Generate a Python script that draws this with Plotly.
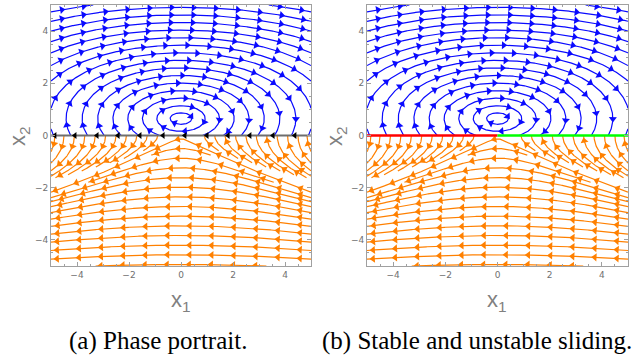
import math
import plotly.graph_objects as go

# ---- values ----
UPPER_CENTER_X2 = 0.65      # centre of the upper (blue) rotation
UPPER_K = 0.28              # upper: x2' = -k*x1
UPPER_ALPHA = 0.04          # upper: x1' = u + alpha*u^3, u = x2 - centre
LOWER_M = 0.16              # lower: x2' = m*x1
LOWER_LAMBDA = 0.55         # lower: x1' = 1 - exp(-lambda*x2)
X_RANGE = [-5, 5]
Y_RANGE = [-5, 5]
TICK_VALS = [-4, -2, 0, 2, 4]
TICK_TEXT = ["\u22124", "\u22122", "0", "2", "4"]
MINOR_TICKS = [-5, -4.5, -3.5, -3, -2.5, -1.5, -1, -0.5, 0.5, 1, 1.5, 2.5, 3, 3.5, 4.5, 5]
# heights (at x1 = 0) of the tops of the blue orbits
UPPER_ORBIT_TOPS_X2 = [0.87, 1.14, 1.43, 1.72, 2.01, 2.30, 2.59, 2.88, 3.17, 3.46,
                       3.75, 4.04, 4.33, 4.62, 4.91, 5.2]
# heights (at x1 = 0) of the orange curves crossing the middle
LOWER_SEEDS_X2 = [-0.13, -0.5, -0.87, -1.24, -1.61, -1.98, -2.35, -2.72, -3.09, -3.46,
                  -3.83, -4.2, -4.57, -4.94]
# |x1| where the orange side curves meet the switching line
LOWER_WEDGE_X1 = [0.5, 0.9, 1.3, 1.7, 2.1, 2.5, 2.9, 3.3, 3.7, 4.1, 4.5, 4.85]
SLIDE_ARROWS_X1 = [-4.85, -4.08, -3.23, -2.42, -1.58, -0.69, 0.15, 1.0, 1.81, 2.65, 3.54, 4.38]
CAPTIONS = ["(a) Phase portrait.", "(b) Stable and unstable sliding."]
BLUE = "#0a0aff"
ORANGE = "#ff8000"

DSEP = 0.34
DTEST = 0.42 * DSEP
H = 0.025
ARROW_GAP = 0.85

FIG_W, FIG_H = 636, 358


def px(xp):
    return xp / FIG_W


def py(yp):
    return 1 - yp / FIG_H


def f_upper(x, y):
    u = y - UPPER_CENTER_X2
    return (u + UPPER_ALPHA * u ** 3, -UPPER_K * x)


def f_lower(x, y):
    return (1 - math.exp(-LOWER_LAMBDA * y), LOWER_M * x)


def G_upper(u):
    return u * u / 2 + UPPER_ALPHA * u ** 4 / 4


def G_upper_inv(g):
    if g <= 0:
        return 0.0
    w = (-0.5 + math.sqrt(0.25 + UPPER_ALPHA * g)) / (UPPER_ALPHA / 2)
    return math.sqrt(w)


class Grid:
    def __init__(self, cell):
        self.cell = cell
        self.d = {}

    def key(self, x, y):
        return (int(math.floor(x / self.cell)), int(math.floor(y / self.cell)))

    def add(self, pts):
        for i, (x, y) in enumerate(pts):
            if i % 2 == 0 or i == len(pts) - 1:
                self.d.setdefault(self.key(x, y), []).append((x, y))

    def ok(self, x, y, r):
        i, j = self.key(x, y)
        r2 = r * r
        for di in (-1, 0, 1):
            for dj in (-1, 0, 1):
                for (qx, qy) in self.d.get((i + di, j + dj), ()):
                    if (qx - x) ** 2 + (qy - y) ** 2 < r2:
                        return False
        return True


def make_tracer(field, ylo, yhi, grid, dtest):
    def inside(x, y):
        return X_RANGE[0] <= x <= X_RANGE[1] and ylo <= y <= yhi

    def direction(x, y):
        vx, vy = field(x, y)
        n = math.hypot(vx, vy)
        if n < 1e-9:
            return None
        return vx / n, vy / n

    def clip(x, y, nx, ny):
        t = 1.0
        if nx < X_RANGE[0]:
            t = min(t, (X_RANGE[0] - x) / (nx - x))
        if nx > X_RANGE[1]:
            t = min(t, (X_RANGE[1] - x) / (nx - x))
        if ny < ylo:
            t = min(t, (ylo - y) / (ny - y))
        if ny > yhi:
            t = min(t, (yhi - y) / (ny - y))
        return (x + t * (nx - x), y + t * (ny - y))

    def half(seed, sgn):
        pts = []
        x, y = seed
        L = 0.0
        while L < 80:
            d = direction(x, y)
            if d is None:
                break
            mx, my = x + 0.5 * H * sgn * d[0], y + 0.5 * H * sgn * d[1]
            d2 = direction(mx, my)
            if d2 is None:
                break
            nx, ny = x + H * sgn * d2[0], y + H * sgn * d2[1]
            if not inside(nx, ny):
                pts.append(clip(x, y, nx, ny))
                break
            if grid is not None and not grid.ok(nx, ny, dtest):
                break
            pts.append((nx, ny))
            L += H
            x, y = nx, ny
            if L > 0.5 and math.hypot(nx - seed[0], ny - seed[1]) < 3 * H:
                pts.append(seed)
                return pts, True
        return pts, False

    def trace(seed):
        fwd, closed = half(seed, 1)
        if closed:
            return [seed] + fwd
        bwd, _ = half(seed, -1)
        return bwd[::-1] + [seed] + fwd

    return inside, trace


def length(line):
    return sum(math.hypot(line[i + 1][0] - line[i][0], line[i + 1][1] - line[i][1])
               for i in range(len(line) - 1))


def build_upper():
    """Blue orbits: each orbit (a level set) drawn with all its pieces inside the box."""
    inside, trace = make_tracer(f_upper, 0.0, Y_RANGE[1], None, 0)
    c = UPPER_CENTER_X2
    lines = []
    for top in UPPER_ORBIT_TOPS_X2:
        E = G_upper(top - c)
        done = []
        cands = []
        n = 81
        for i in range(n):
            x1 = X_RANGE[0] + 0.01 + (X_RANGE[1] - X_RANGE[0] - 0.02) * i / (n - 1)
            g = E - UPPER_K * x1 * x1 / 2
            if g < 0:
                continue
            u = G_upper_inv(g)
            for uu in (u, -u):
                y = c + uu
                if 0.005 < y < Y_RANGE[1] - 0.005:
                    cands.append((x1, y))
        cands.sort(key=lambda p: abs(p[0]))
        for s in cands:
            if any(min((q[0] - s[0]) ** 2 + (q[1] - s[1]) ** 2 for q in ln) < 0.05 ** 2 for ln in done):
                continue
            ln = trace(s)
            if len(ln) > 2:
                done.append(ln)
        lines.extend(done)
    return lines


def build_lower():
    ylo, yhi = Y_RANGE[0], 0.0
    grid = Grid(DSEP)
    inside, trace = make_tracer(f_lower, ylo, yhi, grid, DTEST)
    lines = []
    queue = []

    def try_seed(s, clearance, minlen, spawn):
        if not inside(s[0], s[1]) or s[1] == ylo or s[1] == yhi:
            return
        if not grid.ok(s[0], s[1], clearance):
            return
        line = trace(s)
        if len(line) < 3 or length(line) < minlen:
            return
        grid.add(line)
        lines.append(line)
        if spawn:
            step = max(1, int(round(DSEP / H)))
            for i in range(0, len(line) - 1, step):
                tx = line[i + 1][0] - line[i][0]
                ty = line[i + 1][1] - line[i][1]
                nn = math.hypot(tx, ty)
                if nn < 1e-12:
                    continue
                nx, ny = -ty / nn, tx / nn
                queue.append((line[i][0] + DSEP * nx, line[i][1] + DSEP * ny))
                queue.append((line[i][0] - DSEP * nx, line[i][1] - DSEP * ny))

    # curves through the middle, from the top down
    for v in sorted(LOWER_SEEDS_X2, reverse=True):
        try_seed((0.0, v), 0.5 * DSEP, 0.3, True)
    # side curves that meet the switching line, from the outside in
    for a in sorted(LOWER_WEDGE_X1, reverse=True):
        for sgn in (1, -1):
            try_seed((sgn * a, -0.03), 0.5 * DSEP, 0.3, True)
    # fill the remaining gaps
    k = 0
    while k < len(queue):
        try_seed(queue[k], 0.95 * DSEP, 0.6, True)
        k += 1
    return lines


def arrows(lines):
    xs, ys, angs = [], [], []
    for line in lines:
        s = [0.0]
        for i in range(len(line) - 1):
            s.append(s[-1] + math.hypot(line[i + 1][0] - line[i][0], line[i + 1][1] - line[i][1]))
        L = s[-1]
        if L < 0.3:
            continue
        if L < ARROW_GAP:
            targets = [L / 2]
        else:
            targets = []
            t = ARROW_GAP * 0.5
            while t < L - 0.1:
                targets.append(t)
                t += ARROW_GAP
        j = 0
        for t in targets:
            while j < len(s) - 2 and s[j + 1] < t:
                j += 1
            dx = line[j + 1][0] - line[j][0]
            dy = line[j + 1][1] - line[j][1]
            seg = s[j + 1] - s[j]
            f = (t - s[j]) / seg if seg > 0 else 0
            xs.append(line[j][0] + f * dx)
            ys.append(line[j][1] + f * dy)
            angs.append(math.degrees(math.atan2(dx, dy)))
    return xs, ys, angs


def flatten(lines):
    xs, ys = [], []
    for line in lines:
        xs.extend(p[0] for p in line)
        ys.extend(p[1] for p in line)
        xs.append(None)
        ys.append(None)
    return xs, ys


upper_lines = build_upper()
lower_lines = build_lower()

ubx, uby = flatten(upper_lines)
lbx, lby = flatten(lower_lines)
uax, uay, uang = arrows(upper_lines)
lax, lay, lang = arrows(lower_lines)

fig = go.Figure()
for xa, ya in (("x", "y"), ("x2", "y2")):
    fig.add_trace(go.Scatter(x=ubx, y=uby, mode="lines", line=dict(color=BLUE, width=1.2),
                             xaxis=xa, yaxis=ya, hoverinfo="skip"))
    fig.add_trace(go.Scatter(x=lbx, y=lby, mode="lines", line=dict(color=ORANGE, width=1.2),
                             xaxis=xa, yaxis=ya, hoverinfo="skip"))
    fig.add_trace(go.Scatter(x=uax, y=uay, mode="markers",
                             marker=dict(symbol="triangle-up", size=7, color=BLUE, angle=uang,
                                         line=dict(width=0)),
                             xaxis=xa, yaxis=ya, hoverinfo="skip"))
    fig.add_trace(go.Scatter(x=lax, y=lay, mode="markers",
                             marker=dict(symbol="triangle-up", size=7, color=ORANGE, angle=lang,
                                         line=dict(width=0)),
                             xaxis=xa, yaxis=ya, hoverinfo="skip"))

# panel (a): switching line with sliding arrows
fig.add_trace(go.Scatter(x=X_RANGE, y=[0, 0], mode="lines", line=dict(color="#6e6e6e", width=2),
                         xaxis="x", yaxis="y", hoverinfo="skip"))
fig.add_trace(go.Scatter(x=SLIDE_ARROWS_X1, y=[0] * len(SLIDE_ARROWS_X1), mode="markers",
                         marker=dict(symbol="triangle-left", size=6, color="black", line=dict(width=0)),
                         xaxis="x", yaxis="y", hoverinfo="skip"))
# panel (b): sliding segments
fig.add_trace(go.Scatter(x=[X_RANGE[0], 0], y=[0, 0], mode="lines", line=dict(color="#ff0000", width=2.4),
                         xaxis="x2", yaxis="y2", hoverinfo="skip"))
fig.add_trace(go.Scatter(x=[0, X_RANGE[1]], y=[0, 0], mode="lines", line=dict(color="#00ff00", width=2.4),
                         xaxis="x2", yaxis="y2", hoverinfo="skip"))

FRAME = "#a0a0a0"
common = dict(range=X_RANGE, showgrid=False, zeroline=False, showline=True, linecolor=FRAME,
              linewidth=1, mirror="ticks", ticks="inside", ticklen=4, tickcolor=FRAME,
              tickvals=TICK_VALS, ticktext=TICK_TEXT,
              tickfont=dict(family="DejaVu Sans", size=9, color="#707070"),
              minor=dict(tickvals=MINOR_TICKS, ticks="inside", ticklen=2, tickcolor=FRAME))
ydom = [py(266), py(5)]
fig.update_layout(
    width=FIG_W, height=FIG_H, margin=dict(l=0, r=0, t=0, b=0),
    paper_bgcolor="white", plot_bgcolor="white", showlegend=False,
    xaxis=dict(common, domain=[px(51), px(311)], anchor="y"),
    yaxis=dict(common, domain=ydom, anchor="x"),
    xaxis2=dict(common, domain=[px(367), px(628)], anchor="y2"),
    yaxis2=dict(common, domain=ydom, anchor="x2"),
)

LABEL_FONT = dict(family="Liberation Sans", size=22, color="#808080")
CAP_FONT = dict(family="Liberation Serif", size=25, color="black")
ann = []
for xc, lx in ((181, 19), (497, 336)):
    ann.append(dict(x=px(xc), y=py(301), xref="paper", yref="paper", text="x<sub>1</sub>",
                    showarrow=False, font=LABEL_FONT, xanchor="center", yanchor="middle"))
    ann.append(dict(x=px(lx), y=py(136), xref="paper", yref="paper", text="x<sub>2</sub>",
                    showarrow=False, font=LABEL_FONT, textangle=-90, xanchor="center", yanchor="middle"))
ann.append(dict(x=px(158), y=py(341), xref="paper", yref="paper", text=CAPTIONS[0],
                showarrow=False, font=CAP_FONT, xanchor="center", yanchor="middle"))
ann.append(dict(x=px(477), y=py(341), xref="paper", yref="paper", text=CAPTIONS[1],
                showarrow=False, font=CAP_FONT, xanchor="center", yanchor="middle"))
fig.update_layout(annotations=ann)

fig.write_html("out.html", config={"displayModeBar": False},
               post_script="document.body.style.margin='0';")
